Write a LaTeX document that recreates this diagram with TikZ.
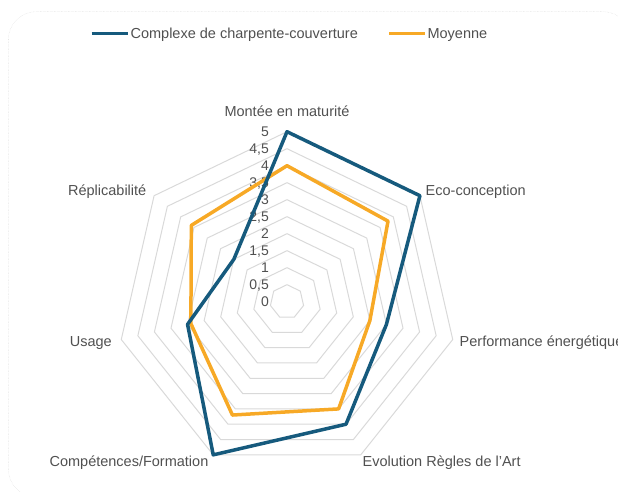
\documentclass[tikz,border=0pt]{standalone}
\usepackage{fontspec}
\setmainfont{Liberation Sans}
\usetikzlibrary{positioning}
\definecolor{gridgray}{RGB}{217,217,217}
\definecolor{framegray}{RGB}{215,215,215}
\definecolor{txtgray}{RGB}{80,80,80}
\definecolor{chblue}{RGB}{22,90,125}
\definecolor{chorange}{RGB}{247,169,38}
\tikzset{
  lbl/.style={text=txtgray,font=\fontsize{14.5}{17}\selectfont,inner sep=0pt,text height=10.4pt,text depth=0pt},
  ticklbl/.style={lbl,font=\fontsize{14}{16}\selectfont,anchor=east},
  ring/.style={gridgray,line width=1pt},
  series/.style={line width=3.5pt,line join=round}
}
\begin{document}
\begin{tikzpicture}[x=1pt,y=1pt]
\useasboundingbox (0,0) rectangle (618,492);
\draw[framegray,densely dotted,rounded corners=28pt] (8.3,480.3) rectangle (631,-5);
% legend
\coordinate (lgb1) at (91.6,458.7);
\coordinate (lgb2) at (128.4,458.7);
\coordinate (lgo1) at (389,458.7);
\coordinate (lgo2) at (425.4,458.7);
\draw[series,chblue] (lgb1) -- (lgb2);
\node[lbl,right=2pt] (lgbt) at (lgb2) {Complexe de charpente-couverture};
\draw[series,chorange] (lgo1) -- (lgo2);
\node[lbl,right=2pt] (lgot) at (lgo2) {Moyenne};
\begin{scope}[shift={(287,190.3)}]
% grid
\foreach \r in {1,...,10}
  \draw[ring] (90:17*\r) \foreach \k in {1,...,6} { -- ({90-\k*360/7}:17*\r) } -- cycle;
\foreach \k in {0,...,6}
  \coordinate (v\k) at ({90-\k*360/7}:170);
% axis labels
\node[lbl,above=14.5pt] (lab0) at (v0) {Montée en maturité};
\node[lbl,right=5.6pt,yshift=5.7pt] (lab1) at (v1) {Eco-conception};
\node[lbl,right=6.8pt,yshift=-1.5pt] (lab2) at (v2) {Performance énergétique};
\node[lbl,right=1.7pt,yshift=-6.8pt] (lab3) at (v3) {Evolution Règles de l'Art};
\node[lbl,left=4.7pt,yshift=-6.8pt] (lab4) at (v4) {Compétences/Formation};
\node[lbl,left=9.3pt,yshift=-1.5pt] (lab5) at (v5) {Usage};
\node[lbl,left=7.6pt,yshift=5.7pt] (lab6) at (v6) {Réplicabilité};
% scale
\foreach \i/\t in {0/0,1/{0,5},2/1,3/{1,5},4/2,5/{2,5},6/3,7/{3,5},8/4,9/{4,5},10/5}
  \node[ticklbl] (t\i) at (-18,17*\i) {\t};
% data
\foreach \k/\v in {0/5,1/5,2/3,3/4,4/5,5/3,6/2}
  \coordinate (b\k) at ({90-\k*360/7}:34*\v);
\foreach \k/\v in {0/4,1/3.8,2/2.5,3/3.5,4/3.7,5/2.9,6/3.6}
  \coordinate (m\k) at ({90-\k*360/7}:34*\v);
\draw[series,chorange] (m0) -- (m1) -- (m2) -- (m3) -- (m4) -- (m5) -- (m6) -- cycle;
\draw[series,chblue] (b0) -- (b1) -- (b2) -- (b3) -- (b4) -- (b5) -- (b6) -- cycle;
\end{scope}
\end{tikzpicture}
\end{document}
